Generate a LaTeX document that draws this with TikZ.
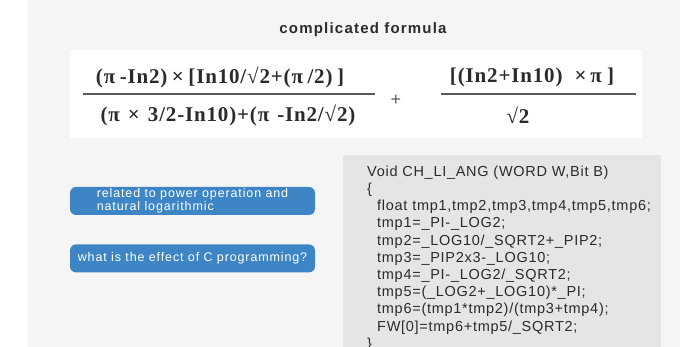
\documentclass[tikz,border=0pt]{standalone}
\usepackage{fontspec}
\setmainfont{Liberation Sans}
\newfontfamily\formulafont[LetterSpace=4]{Liberation Serif}
\newfontfamily\titlefont[LetterSpace=8]{Liberation Sans}
\newfontfamily\boxfont[LetterSpace=7]{Liberation Sans}
\newfontfamily\codefont[LetterSpace=5]{Liberation Sans}
\usepackage{tikz}
\usetikzlibrary{positioning}
\definecolor{panelgray}{HTML}{F5F5F5}
\definecolor{codegray}{HTML}{E5E5E5}
\definecolor{askblue}{HTML}{3E85C5}
\definecolor{inkgray}{HTML}{2B2B2B}
\definecolor{rulegray}{HTML}{5A5A5A}
\newcommand{\fgap}[1]{\hspace{#1pt}}
\tikzset{
  heading/.style={inner sep=0pt,text=inkgray,font=\titlefont\bfseries\fontsize{15}{18}\selectfont},
  formula/.style={inner sep=0pt,text=inkgray,font=\formulafont\bfseries\fontsize{21}{24}\selectfont},
  fracbar/.style={draw=rulegray,line width=1.3pt},
  askbox/.style={rectangle,rounded corners=6pt,fill=askblue,text=white,minimum width=245pt,minimum height=28pt,inner sep=0pt,font=\boxfont\fontsize{12.5}{11.5}\selectfont},
  codetext/.style={align=left,inner sep=0pt,text=inkgray,font=\codefont\fontsize{14.5}{17.2}\selectfont}
}

\begin{document}
\begin{tikzpicture}[x=1pt,y=-1pt]
\useasboundingbox (0,0) rectangle (691,347);
\clip (0,0) rectangle (691,347);
\fill[white] (0,0) rectangle (691,347);
\fill[panelgray] (27,0) rectangle (680,347);
\fill[white] (70,50) rectangle (642,138);
\fill[codegray] (343,155) rectangle (661,360);
\node[heading] (title) at (363,30) {complicated formula};
\node[formula] (lnum) at (220,77) {(π\fgap{4.5}-In2)\fgap{4.5}×\fgap{4.5}[In10/√2+(π\fgap{4.5}/2)\fgap{4.5}]};
\node[formula] (lden) at (228,115) {(π\fgap{8}×\fgap{8}3/2-In10)+(π\fgap{8}-In2/√2)};
\coordinate (lbarl) at (83,94);
\coordinate (lbarr) at (375,94);
\draw[fracbar] (lbarl) -- (lbarr);
\node[inner sep=0pt,text=rulegray,font=\fontsize{18}{20}\selectfont] (plus) at (396,100) {+};
\node[formula] (rnum) at (532,77) {[(In2+In10)\fgap{12}×\fgap{4}π\fgap{5}]};
\node[formula] (rden) at (518,115) {√2};
\coordinate (rbarl) at (441,94);
\coordinate (rbarr) at (636,94);
\draw[fracbar] (rbarl) -- (rbarr);
\node[askbox,align=left] (q1) at (192.5,201) {related to power operation and\\natural logarithmic};
\node[askbox,below=29pt of q1] (q2) {what is the effect of C programming?};
\node[codetext,anchor=north west] (code) at (367,165.5) {Void CH\_LI\_ANG (WORD W,Bit B)\\
\{\\
\hspace*{10pt}float tmp1,tmp2,tmp3,tmp4,tmp5,tmp6;\\
\hspace*{10pt}tmp1=\_PI-\_LOG2;\\
\hspace*{10pt}tmp2=\_LOG10/\_SQRT2+\_PIP2;\\
\hspace*{10pt}tmp3=\_PIP2x3-\_LOG10;\\
\hspace*{10pt}tmp4=\_PI-\_LOG2/\_SQRT2;\\
\hspace*{10pt}tmp5=(\_LOG2+\_LOG10)*\_PI;\\
\hspace*{10pt}tmp6=(tmp1*tmp2)/(tmp3+tmp4);\\
\hspace*{10pt}FW[0]=tmp6+tmp5/\_SQRT2;\\
\}};
\end{tikzpicture}
\end{document}
